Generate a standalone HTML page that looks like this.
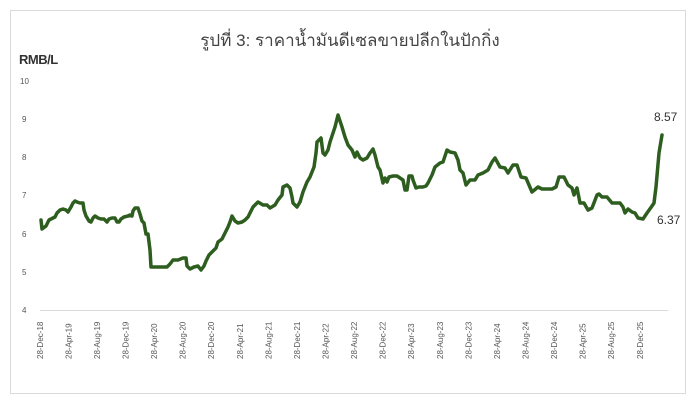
<!DOCTYPE html>
<html><head><meta charset="utf-8"><style>
body{margin:0;background:#fff;}
svg{display:block;font-family:"Liberation Sans","Noto Sans CJK SC",sans-serif;}
</style></head><body>
<svg width="696" height="406" viewBox="0 0 696 406">
<rect x="10.5" y="10.5" width="675" height="383" fill="#fff" stroke="#d9d9d9"/>
<text x="350" y="46" text-anchor="middle" font-size="17" fill="#444" font-family="Liberation Sans,'Noto Sans CJK SC',sans-serif">รูปที่ 3: ราคาน้ำมันดีเซลขายปลีกในปักกิ่ง</text>
<text x="19" y="64" font-size="13" font-weight="bold" fill="#333" letter-spacing="-0.5">RMB/L</text>
<g font-size="8" fill="#555">
<text x="20" y="84">10</text><text x="22" y="122">9</text><text x="22" y="160">8</text><text x="22" y="198">7</text><text x="22" y="237">6</text><text x="22" y="275">5</text><text x="22" y="313">4</text>
</g>
<line x1="40" y1="310.5" x2="668" y2="310.5" stroke="#d9d9d9"/>
<g font-size="8" fill="#555" id="xl"></g>
<polyline fill="none" stroke="#2e5e1f" stroke-width="3.5" stroke-linejoin="round" stroke-linecap="round" points="41,220 42,229 46,226 49,220 55,217 57,213 60,210 63,209 66,210 68,212 71,207 73,203 75,201 77,202 80,203 83,203 84,210 86,216 89,221 91,222 93,218 95,216 98,218 101,219 104,219 107,222 109,219 112,218 115,218 117,222 119,222 121,219 124,217 128,216 130,215 132,216 133,211 135,208 138,208 140,214 142,221 144,223 146,234 148,234 150,250 151,267 167,267 170,264 173,260 178,260 183,258 186,258 187,266 190,269 194,267 198,266 201,270 204,266 206,261 209,255 213,251 216,248 218,242 222,239 225,233 228,227 230,222 232,216 235,221 238,223 242,222 245,220 248,217 253,207 258,202 263,205 267,205 270,208 275,205 278,200 282,195 283,187 287,185 290,188 292,197 293,203 297,207 300,202 303,192 307,182 310,177 314,167 316,153 317,142 321,138 323,153 325,155 328,150 330,142 333,133 335,127 338,115 342,127 345,137 348,145 352,150 355,157 357,152 360,158 363,160 367,158 370,153 373,149 375,155 378,167 380,170 383,183 385,178 387,182 389,177 393,176 397,176 400,178 403,180 405,190 407,190 409,176 412,176 413,180 416,188 419,187 423,187 426,186 428,183 432,175 435,167 440,163 443,162 447,150 450,152 455,153 458,160 460,170 463,173 466,185 470,180 475,180 478,175 483,173 488,170 492,162 495,158 500,167 505,168 508,173 513,165 517,165 521,177 526,178 529,185 532,192 538,187 542,189 552,189 556,187 559,177 564,177 568,185 572,188 574,195 577,188 580,203 584,203 588,210 592,208 597,195 599,194 602,197 607,197 612,203 620,203 623,207 625,213 628,209 632,212 635,213 638,218 643,219 647,213 652,206 654,203 656,187 659,153 662,135"/>
<text x="654" y="121" font-size="12" fill="#333">8.57</text>
<text x="657" y="224" font-size="12" fill="#333">6.37</text>
<g font-size="8" fill="#555">
<text transform="translate(43,359) rotate(-90)">28-Dec-18</text>
<text transform="translate(71.5,359) rotate(-90)">28-Apr-19</text>
<text transform="translate(100,359) rotate(-90)">28-Aug-19</text>
<text transform="translate(128.5,359) rotate(-90)">28-Dec-19</text>
<text transform="translate(157,359) rotate(-90)">28-Apr-20</text>
<text transform="translate(185.5,359) rotate(-90)">28-Aug-20</text>
<text transform="translate(214,359) rotate(-90)">28-Dec-20</text>
<text transform="translate(243,359) rotate(-90)">28-Apr-21</text>
<text transform="translate(271.5,359) rotate(-90)">28-Aug-21</text>
<text transform="translate(300,359) rotate(-90)">28-Dec-21</text>
<text transform="translate(328.5,359) rotate(-90)">28-Apr-22</text>
<text transform="translate(357,359) rotate(-90)">28-Aug-22</text>
<text transform="translate(385.5,359) rotate(-90)">28-Dec-22</text>
<text transform="translate(414,359) rotate(-90)">28-Apr-23</text>
<text transform="translate(443,359) rotate(-90)">28-Aug-23</text>
<text transform="translate(471.5,359) rotate(-90)">28-Dec-23</text>
<text transform="translate(500,359) rotate(-90)">28-Apr-24</text>
<text transform="translate(528.5,359) rotate(-90)">28-Aug-24</text>
<text transform="translate(557,359) rotate(-90)">28-Dec-24</text>
<text transform="translate(585.5,359) rotate(-90)">28-Apr-25</text>
<text transform="translate(614,359) rotate(-90)">28-Aug-25</text>
<text transform="translate(643,359) rotate(-90)">28-Dec-25</text>
</g>
</svg>
</body></html>
